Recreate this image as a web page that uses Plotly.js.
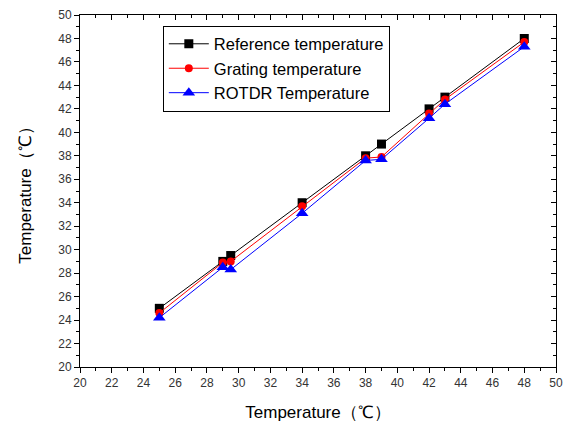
<!DOCTYPE html>
<html><head><meta charset="utf-8">
<script src="https://cdn.plot.ly/plotly-3.0.1.min.js"></script>
<style>html,body{margin:0;padding:0;background:#fff}</style>
</head><body><div id="c" style="width:566px;height:428px"></div>
<script>
var xValues = [25, 29, 29.5, 34, 38, 39, 42, 43, 48];
var referenceTemp = [25, 29, 29.5, 34, 38, 39, 42, 43, 48];
var gratingTemp = [24.6, 28.9, 29.0, 33.7, 37.8, 37.9, 41.6, 42.8, 47.7];
var rotdrTemp = [24.2, 28.5, 28.3, 33.1, 37.6, 37.7, 41.2, 42.4, 47.3];
var seriesNames = ["Reference temperature", "Grating temperature", "ROTDR Temperature"];
var tickVals = [20,22,24,26,28,30,32,34,36,38,40,42,44,46,48,50];

var traces = [
  {x: xValues, y: referenceTemp, name: seriesNames[0], mode: 'lines+markers',
   line: {color: '#000000', width: 1}, marker: {symbol: 'square', size: 9, color: '#000000'}},
  {x: xValues, y: gratingTemp, name: seriesNames[1], mode: 'lines+markers',
   line: {color: '#ff0000', width: 1}, marker: {symbol: 'circle', size: 8, color: '#ff0000'}},
  {x: xValues, y: rotdrTemp, name: seriesNames[2], mode: 'lines+markers',
   line: {color: '#0000ff', width: 1}, marker: {symbol: 'triangle-up', size: 11, color: '#0000ff'}},
  {x: [20], y: [20], xaxis: 'x2', yaxis: 'y2', mode: 'markers', showlegend: false,
   marker: {opacity: 0}, hoverinfo: 'skip'}
];

var axisCommon = {
  range: [20, 50], tickvals: tickVals, showgrid: false, zeroline: false,
  showline: true, linecolor: '#000', linewidth: 1,
  ticks: 'outside', ticklen: 5, tickcolor: '#000',
  minor: {ticks: 'outside', ticklen: 3, dtick: 1, tickcolor: '#000', showgrid: false},
  tickfont: {family: 'Arial, Liberation Sans, sans-serif', size: 12, color: '#333'}
};

var layout = {
  width: 566, height: 428,
  margin: {l: 80, r: 10, t: 15, b: 61},
  paper_bgcolor: '#fff', plot_bgcolor: '#fff',
  showlegend: true,
  legend: {x: 0.174, y: 0.97, xanchor: 'left', yanchor: 'top',
    bgcolor: '#fff', bordercolor: '#000', borderwidth: 1,
    font: {family: 'Arial, Liberation Sans, sans-serif', size: 16.5, color: '#000'},
    tracegroupgap: 0, itemwidth: 40},
  xaxis: Object.assign({}, axisCommon, {
    title: {text: 'Temperature（℃）', standoff: 16,
      font: {family: 'Arial, Liberation Sans, sans-serif', size: 17, color: '#000'}}
  }),
  yaxis: Object.assign({}, axisCommon, {
    title: {text: 'Temperature（℃）', standoff: 22,
      font: {family: 'Arial, Liberation Sans, sans-serif', size: 17, color: '#000'}}
  }),
  xaxis2: {overlaying: 'x', side: 'top', range: [20, 50], tickvals: tickVals,
    showticklabels: false, showgrid: false, zeroline: false, showline: true,
    linecolor: '#000', ticks: 'inside', ticklen: 5, tickcolor: '#000',
    minor: {ticks: 'inside', ticklen: 3, dtick: 1, tickcolor: '#000'}},
  yaxis2: {overlaying: 'y', side: 'right', range: [20, 50], tickvals: tickVals,
    showticklabels: false, showgrid: false, zeroline: false, showline: true,
    linecolor: '#000', ticks: 'inside', ticklen: 5, tickcolor: '#000',
    minor: {ticks: 'inside', ticklen: 3, dtick: 1, tickcolor: '#000'}}
};

Plotly.newPlot('c', traces, layout, {displayModeBar: false, staticPlot: true});
</script></body></html>
